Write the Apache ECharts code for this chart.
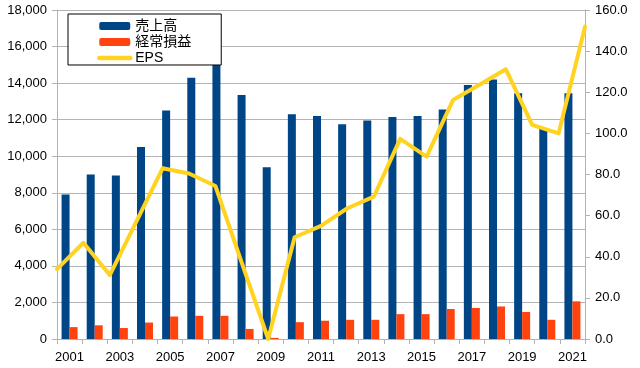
<!DOCTYPE html>
<html><head><meta charset="utf-8">
<script src="https://cdn.jsdelivr.net/npm/echarts@6/dist/echarts.min.js"></script>
<style>html,body{margin:0;padding:0;background:#fff}#c{width:640px;height:368px}</style>
</head><body><div id="c"></div>
<script>
const years = ['2001','2002','2003','2004','2005','2006','2007','2008','2009','2010','2011','2012','2013','2014','2015','2016','2017','2018','2019','2020','2021'];
const sales = [7900, 9000, 8950, 10500, 12500, 14300, 15250, 13350, 9400, 12300, 12200, 11750, 11950, 12150, 12200, 12550, 13900, 14200, 13450, 11550, 13450];
const ordinaryProfit = [650, 750, 600, 900, 1230, 1270, 1270, 550, 60, 920, 1000, 1050, 1050, 1360, 1360, 1640, 1700, 1780, 1480, 1050, 2060];
const eps = [34, 46.8, 31.1, 57, 83.0, 80.5, 74.4, 37, 0, 49.5, 55.0, 63.6, 69.2, 97.3, 88.7, 116.2, 123.6, 131.2, 104.1, 100.0, 151.9];
const seriesNames = ['売上高', '経常損益', 'EPS'];

const font = '"Liberation Sans", Arial, "Noto Sans CJK JP", sans-serif';
const axisGray = '#b3b3b3';
const chart = echarts.init(document.getElementById('c'), null, {renderer: 'canvas'});
chart.setOption({
  animation: false,
  textStyle: {fontFamily: font},
  grid: {left: 57, right: 55, top: 10, bottom: 29},
  legend: {
    left: 68, top: 14,
    orient: 'vertical',
    data: [
      {name: seriesNames[0]},
      {name: seriesNames[1]},
      {name: seriesNames[2], itemStyle: {opacity: 0}, lineStyle: {width: 4.5, cap: 'round', color: '#ffd320'}}
    ],
    backgroundColor: '#fff',
    borderColor: '#000', borderWidth: 1,
    padding: [5, 30, 0, 29],
    itemWidth: 31, itemHeight: 8, itemGap: 2,
    textStyle: {fontSize: 14, color: '#000', fontFamily: font},
    z: 10
  },
  xAxis: [{
    type: 'category', data: years, boundaryGap: true,
    axisLine: {lineStyle: {color: axisGray}},
    axisTick: {show: true, interval: 0, length: 5, lineStyle: {color: axisGray}},
    axisLabel: {interval: 1, color: '#000', fontSize: 13, margin: 12, fontFamily: font}
  }, {
    type: 'category', data: years, boundaryGap: false, show: false
  }],
  yAxis: [{
    type: 'value', min: 0, max: 18000, interval: 2000,
    axisLine: {show: true, lineStyle: {color: axisGray}},
    axisTick: {show: true, length: 5, lineStyle: {color: axisGray}},
    splitLine: {lineStyle: {color: axisGray}},
    axisLabel: {color: '#000', fontSize: 13, margin: 10, fontFamily: font,
      formatter: v => v.toLocaleString('en-US')}
  }, {
    type: 'value', min: 0, max: 160, interval: 20,
    axisLine: {show: true, lineStyle: {color: axisGray}},
    axisTick: {show: true, length: 5, lineStyle: {color: axisGray}},
    splitLine: {show: false},
    axisLabel: {color: '#000', fontSize: 13, margin: 10, fontFamily: font,
      formatter: v => v.toFixed(1)}
  }],
  series: [{
    name: seriesNames[0], type: 'bar', data: sales, xAxisIndex: 0, yAxisIndex: 0,
    barWidth: 8, barGap: '0%', itemStyle: {color: '#004586'}
  }, {
    name: seriesNames[1], type: 'bar', data: ordinaryProfit, xAxisIndex: 0, yAxisIndex: 0,
    barWidth: 8, barGap: '0%', itemStyle: {color: '#ff420e'}
  }, {
    name: seriesNames[2], type: 'line', data: eps, xAxisIndex: 1, yAxisIndex: 1,
    symbol: 'none', z: 5,
    lineStyle: {color: '#ffd320', width: 4, cap: 'round', join: 'round'},
    itemStyle: {color: '#ffd320'}
  }]
});
</script></body></html>
